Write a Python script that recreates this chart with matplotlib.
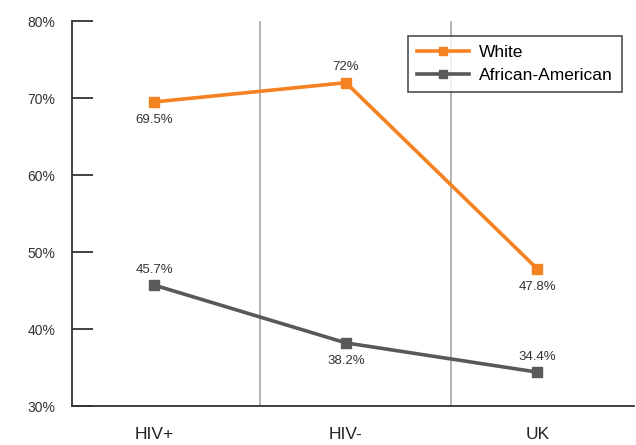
import matplotlib
matplotlib.use("Agg")
import matplotlib.pyplot as plt
from matplotlib.ticker import FuncFormatter

# ── DATA ─────────────────────────────────────────────
categories = ["HIV+", "HIV-", "UK"]
white = [69.5, 72.0, 47.8]
african_american = [45.7, 38.2, 34.4]
yticks = [30, 40, 50, 60, 70, 80]

ORANGE = "#F58220"
GREY = "#58595B"

plt.rcParams["font.family"] = ["Liberation Sans", "DejaVu Sans"]

fig = plt.figure(figsize=(6.36, 4.45), dpi=100)
ax = fig.add_axes([0.1132, 0.0876, 0.8836, 0.865])

x = list(range(len(categories)))

ax.plot(x, white, color=ORANGE, lw=2.6, marker="s", ms=7,
        label="White", zorder=3)
ax.plot(x, african_american, color=GREY, lw=2.6, marker="s", ms=7,
        label="African-American", zorder=3)

# separators between categories
for i in x[:-1]:
    ax.axvline(i + 0.55, color="#A6A6A6", lw=1.2, zorder=1)

# value labels (above / below each point)
white_pos = ["below", "above", "below"]
aa_pos = ["above", "below", "above"]
for xs, vals, pos in [(x, white, white_pos), (x, african_american, aa_pos)]:
    for xi, v, p in zip(xs, vals, pos):
        off = 11 if p == "above" else -13
        ax.annotate(f"{v:g}%", (xi, v), xytext=(0, off),
                    textcoords="offset points", ha="center",
                    va="center", fontsize=9.5, color="#333333")

ax.set_xlim(-0.43, 2.504)
ax.set_ylim(30, 80)
ax.set_yticks(yticks)
ax.yaxis.set_major_formatter(FuncFormatter(lambda v, p: f"{v:.0f}%"))
ax.set_xticks(x)
ax.set_xticklabels(categories, fontsize=12.5, color="#222222")

ax.tick_params(axis="y", direction="in", length=15, width=1.3,
               color="#333333", pad=12, labelsize=10, labelcolor="#333333")
ax.tick_params(axis="x", length=0, pad=15)

for s in ["top", "right"]:
    ax.spines[s].set_visible(False)
for s in ["left", "bottom"]:
    ax.spines[s].set_color("#333333")
    ax.spines[s].set_linewidth(1.3)

leg = ax.legend(loc="upper right", bbox_to_anchor=(0.978, 0.96),
                fontsize=12.5, frameon=True, fancybox=False,
                borderpad=0.5, borderaxespad=0, handlelength=3.0,
                handletextpad=0.6, labelspacing=0.45,
                markerscale=0.75)
leg.get_frame().set_edgecolor("#222222")
leg.get_frame().set_linewidth(1.2)

fig.savefig("out.png", dpi=100, facecolor="white")
